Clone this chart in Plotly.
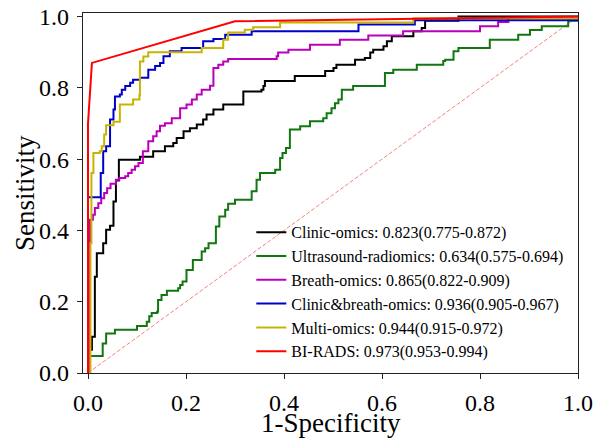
import plotly.graph_objects as go

names = ["Clinic-omics: 0.823(0.775-0.872)",
         "Ultrasound-radiomics: 0.634(0.575-0.694)",
         "Breath-omics: 0.865(0.822-0.909)",
         "Clinic&breath-omics: 0.936(0.905-0.967)",
         "Multi-omics: 0.944(0.915-0.972)",
         "BI-RADS: 0.973(0.953-0.994)"]
colors = ["#000000", "#117711", "#BB00BB", "#0000CC", "#C8B400", "#FF0000"]

clinic_fpr = [0, 0.004, 0.008, 0.014, 0.018, 0.031, 0.037, 0.045, 0.052, 0.057, 0.063, 0.106, 0.133, 0.157,
              0.174, 0.181, 0.195, 0.208, 0.222, 0.235, 0.242, 0.256, 0.276, 0.317, 0.354, 0.358, 0.361, 0.422,
              0.484, 0.501, 0.507, 0.545, 0.565, 0.576, 0.582, 0.603, 0.610, 0.620, 0.664, 0.681, 0.688, 0.756, 1.0]
clinic_tpr = [0, 0.065, 0.102, 0.270, 0.336, 0.364, 0.402, 0.413, 0.481, 0.540, 0.598, 0.607, 0.622, 0.636,
              0.645, 0.659, 0.678, 0.687, 0.697, 0.711, 0.725, 0.739, 0.753, 0.790, 0.795, 0.805, 0.819, 0.833,
              0.847, 0.856, 0.865, 0.879, 0.884, 0.899, 0.907, 0.917, 0.931, 0.945, 0.959, 0.968, 0.988, 1.0, 1.0]

us_fpr = [0, 0, 0.030, 0.037, 0.055, 0.100, 0.120, 0.125, 0.130, 0.141, 0.143, 0.150, 0.161, 0.184, 0.188,
          0.193, 0.201, 0.214, 0.232, 0.239, 0.246, 0.261, 0.268, 0.280, 0.286, 0.300, 0.334, 0.344, 0.351,
          0.382, 0.392, 0.397, 0.404, 0.412, 0.433, 0.453, 0.480, 0.487, 0.497, 0.504, 0.511, 0.518, 0.541,
          0.606, 0.623, 0.671, 0.725, 0.729, 0.746, 0.756, 0.820, 0.878, 0.902, 0.926, 0.980, 1.0]
us_tpr = [0, 0.048, 0.083, 0.111, 0.121, 0.132, 0.144, 0.159, 0.168, 0.172, 0.205, 0.219, 0.231, 0.238, 0.247,
          0.257, 0.289, 0.317, 0.341, 0.350, 0.364, 0.411, 0.439, 0.458, 0.475, 0.486, 0.510, 0.542, 0.561,
          0.570, 0.603, 0.617, 0.631, 0.683, 0.692, 0.706, 0.715, 0.729, 0.743, 0.757, 0.767, 0.795, 0.805,
          0.842, 0.851, 0.865, 0.875, 0.879, 0.903, 0.912, 0.935, 0.949, 0.962, 0.973, 0.988, 1.0]

breath_fpr = [0, 0.004, 0.010, 0.014, 0.021, 0.027, 0.033, 0.039, 0.046, 0.057, 0.064, 0.076, 0.082, 0.089,
              0.096, 0.103, 0.112, 0.123, 0.133, 0.140, 0.147, 0.157, 0.171, 0.188, 0.201, 0.212, 0.222, 0.232,
              0.249, 0.256, 0.266, 0.276, 0.286, 0.385, 0.388, 0.409, 0.453, 0.514, 0.572, 0.643, 0.800, 0.837,
              0.858, 1.0]
breath_tpr = [0, 0.430, 0.444, 0.463, 0.476, 0.490, 0.505, 0.518, 0.531, 0.542, 0.547, 0.552, 0.561, 0.570,
              0.580, 0.589, 0.622, 0.650, 0.664, 0.678, 0.694, 0.701, 0.715, 0.743, 0.753, 0.767, 0.781, 0.795,
              0.806, 0.856, 0.865, 0.874, 0.881, 0.889, 0.899, 0.907, 0.921, 0.935, 0.947, 0.959, 0.973, 0.985,
              0.995, 1.0]

cb_fpr = [0, 0, 0.026, 0.031, 0.037, 0.045, 0.052, 0.055, 0.065, 0.069, 0.076, 0.086, 0.092, 0.106, 0.123,
          0.137, 0.147, 0.154, 0.167, 0.191, 0.235, 0.256, 0.280, 0.334, 0.552, 0.667, 1.0]
cb_tpr = [0, 0.493, 0.561, 0.622, 0.636, 0.711, 0.739, 0.776, 0.781, 0.795, 0.805, 0.814, 0.823, 0.828, 0.851,
          0.861, 0.870, 0.889, 0.903, 0.912, 0.931, 0.937, 0.949, 0.959, 0.978, 0.990, 1.0]

multi_fpr = [0, 0, 0.005, 0.007, 0.011, 0.024, 0.028, 0.033, 0.037, 0.052, 0.065, 0.092, 0.105, 0.106, 0.113,
             0.123, 0.232, 0.276, 0.286, 0.320, 0.337, 0.392, 0.664, 1.0]
multi_tpr = [0, 0.0, 0.364, 0.561, 0.617, 0.622, 0.636, 0.669, 0.695, 0.705, 0.753, 0.767, 0.780, 0.874, 0.888,
             0.900, 0.912, 0.935, 0.955, 0.963, 0.970, 0.983, 0.995, 1.0]

birads_fpr = [0, 0, 0.008, 0.30, 1.0]
birads_tpr = [0, 0.70, 0.87, 0.987, 1.0]

ticks = [0.0, 0.2, 0.4, 0.6, 0.8, 1.0]
tick_text = ["0.0", "0.2", "0.4", "0.6", "0.8", "1.0"]

series = [(clinic_fpr, clinic_tpr, "hv"), (us_fpr, us_tpr, "hv"), (breath_fpr, breath_tpr, "hv"),
          (cb_fpr, cb_tpr, "hv"), (multi_fpr, multi_tpr, "hv"), (birads_fpr, birads_tpr, "linear")]

fig = go.Figure()
fig.add_trace(go.Scatter(x=[0, 1], y=[0, 1], mode="lines", showlegend=False,
                         line=dict(color="#F4837A", width=1, dash="4px,2px"), hoverinfo="skip"))
for i, ((fx, ty, shp), nm, c) in enumerate(zip(series, names, colors)):
    fig.add_trace(go.Scatter(x=fx, y=ty, mode="lines", name=nm, legendgroup=str(i),
                             line=dict(color=c, width=2, shape=shp)))

font_family = "Liberation Serif"
axis_common = dict(showline=True, linecolor="#222", linewidth=1.2, mirror=True, ticks="outside",
                   ticklen=5, tickwidth=1.2, tickcolor="#222", showgrid=False, zeroline=False,
                   automargin=False, ticklabelstandoff=3, ticklabeloverflow="allow",
                   tickvals=ticks, ticktext=tick_text, tickfont=dict(size=24, family=font_family, color="black"))
fig.update_layout(
    width=594, height=440,
    margin=dict(l=83, r=16, t=13, b=67),
    plot_bgcolor="white", paper_bgcolor="white",
    font=dict(family=font_family, color="black"),
    xaxis=dict(range=[-0.0102, 1.0], **axis_common),
    yaxis=dict(range=[0, 1.01], **axis_common),
    legend=dict(x=0.34, y=0.013, xanchor="left", yanchor="bottom", bgcolor="rgba(0,0,0,0)",
                font=dict(size=16, family=font_family, color="black"), tracegroupgap=0),
    annotations=[
        dict(text="1-Specificity", x=0.5, y=0, xref="paper", yref="paper", xanchor="center", yanchor="middle",
             yshift=-50, showarrow=False, font=dict(size=27, family=font_family, color="black")),
        dict(text="Sensitivity", x=0, y=0.5, xref="paper", yref="paper", xanchor="center", yanchor="middle",
             xshift=-58, textangle=-90, showarrow=False, font=dict(size=27, family=font_family, color="black")),
    ],
)
fig.write_html("out.html", config={"displayModeBar": False},
               post_script="document.body.style.margin='0';document.body.style.overflow='hidden';")
